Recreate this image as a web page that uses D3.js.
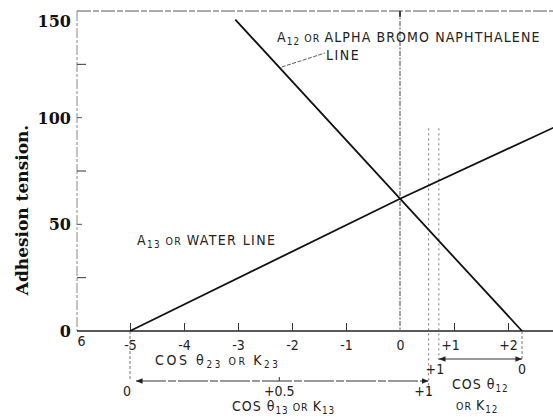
<html>
<head>
<title>Adhesion tension</title>
<script src="https://cdnjs.cloudflare.com/ajax/libs/d3/7.8.5/d3.min.js"></script>
<style>
  body { margin: 0; background: #fff; }
  .lab { font-family: "Liberation Sans Narrow", "DejaVu Sans Condensed", "Arial Narrow", sans-serif; fill: #222; }
  .num { font-family: "DejaVu Serif", serif; fill: #111; }
</style>
</head>
<body>
<svg id="chart" width="553" height="417"></svg>
<script>
// values
var xTicks = [-6, -5, -4, -3, -2, -1, 0, 1, 2, 3];
var yTicks = [0, 50, 100, 150];
var yMinor = [25, 75, 125];
var waterLine = [[-5, 0], [0, 62], [2.9, 96]];        // A13 or water line
var bromoLine = [[-3.05, 146], [0, 62], [2.26, 0]];   // A12 or alpha bromo naphthalene line
var cos13AtX = [-5, 0.53];     // cos theta13 = 0 and +1
var cos13Ticks = [0, 0.5, 1];
var cos12AtX = [0.72, 2.26];   // cos theta12 = +1 and 0
var cos12Ticks = [1, 0];

var svg = d3.select('#chart');

var x = d3.scaleLinear().domain([-6, 3]).range([76, 562]);
var y = d3.scaleLinear().domain([0, 150]).range([331, 11]);
var k13 = d3.scaleLinear().domain([0, 1]).range([x(cos13AtX[0]), x(cos13AtX[1])]);
var k12 = d3.scaleLinear().domain([1, 0]).range([x(cos12AtX[0]), x(cos12AtX[1])]);

var defs = svg.append('defs');
defs.append('marker').attr('id', 'arr').attr('viewBox', '0 0 10 10')
    .attr('refX', 10).attr('refY', 5).attr('markerWidth', 7).attr('markerHeight', 6)
    .attr('orient', 'auto-start-reverse')
  .append('path').attr('d', 'M0,1 L10,5 L0,9 Z').attr('fill', '#222');

// frame: top line and y axis line (faint, scanned look)
svg.append('line').attr('x1', 77).attr('x2', 553).attr('y1', y(150)).attr('y2', y(150))
    .attr('stroke', '#555').attr('stroke-width', 1.2).attr('stroke-dasharray', '14,2,6,2');
svg.append('line').attr('x1', 77).attr('x2', 77).attr('y1', y(150)).attr('y2', y(0))
    .attr('stroke', '#888').attr('stroke-width', 1).attr('stroke-dasharray', '10,2,3,2');

// y ticks
svg.selectAll('.ymaj').data(yTicks.filter(function (d) { return d > 0 && d < 150; }))
  .enter().append('line')
    .attr('x1', 77).attr('x2', 82).attr('y1', function (d) { return y(d); }).attr('y2', function (d) { return y(d); })
    .attr('stroke', '#555');
svg.selectAll('.ymin').data(yMinor).enter().append('line')
    .attr('x1', 77).attr('x2', 86).attr('y1', function (d) { return y(d); }).attr('y2', function (d) { return y(d); })
    .attr('stroke', '#333');
svg.selectAll('.ylab').data(yTicks).enter().append('text')
    .attr('class', 'num').attr('font-size', 16).attr('font-weight', 'bold').attr('text-anchor', 'end')
    .attr('x', 71).attr('y', function (d) { return Math.max(y(d), 21) + 6; })
    .text(function (d) { return d; });

// y title
svg.append('text').attr('class', 'num').attr('font-weight', 'bold').attr('font-size', 17)
    .attr('text-anchor', 'middle').attr('transform', 'translate(28,210) rotate(-90)')
    .text('Adhesion tension.');

// x axis with upward ticks
var xAxis = d3.axisBottom(x).tickValues(xTicks).tickSize(-8).tickPadding(14)
    .tickFormat(function (d) { return d === -6 ? '6' : (d > 0 ? '+' + d : String(d).replace('\u2212', '-')); });
var gx = svg.append('g').attr('transform', 'translate(0,' + y(0) + ')').call(xAxis);
gx.select('.domain').attr('d', 'M77,0H553').attr('stroke', '#222').attr('stroke-width', 1.6);
gx.selectAll('.tick line').attr('stroke', '#333');
gx.selectAll('.tick').filter(function (d) { return d === -6 || d === 0; }).select('line').remove();
gx.selectAll('.tick text').attr('class', 'lab').attr('font-size', 14).attr('fill', '#222')
    .attr('dx', function (d) { return d === -6 ? 5 : (d === 1 ? -4 : 0); })
    .attr('dy', function (d) { return d === -6 ? '0.1em' : '0.35em'; });

// vertical line at 0
svg.append('line').attr('x1', x(0)).attr('x2', x(0)).attr('y1', y(150)).attr('y2', y(0))
    .attr('stroke', '#444').attr('stroke-width', 1).attr('stroke-dasharray', '5,1.5,2,1.5');
svg.append('line').attr('x1', x(0)).attr('x2', x(0)).attr('y1', y(150)).attr('y2', y(150) + 6)
    .attr('stroke', '#222').attr('stroke-width', 1.5);

// dotted verticals at cos = +1
svg.append('line').attr('x1', k13(1)).attr('x2', k13(1)).attr('y1', y(95)).attr('y2', 395)
    .attr('stroke', '#777').attr('stroke-dasharray', '2,3');
svg.append('line').attr('x1', k12(1)).attr('x2', k12(1)).attr('y1', y(95)).attr('y2', 360)
    .attr('stroke', '#777').attr('stroke-dasharray', '2,3');
svg.append('line').attr('x1', k13(0)).attr('x2', k13(0)).attr('y1', y(0)).attr('y2', 381)
    .attr('stroke', '#777').attr('stroke-dasharray', '3,2');
svg.append('line').attr('x1', k12(0)).attr('x2', k12(0)).attr('y1', y(0)).attr('y2', 359)
    .attr('stroke', '#777').attr('stroke-dasharray', '3,2');

// main lines
var line = d3.line().x(function (d) { return x(d[0]); }).y(function (d) { return y(d[1]); });
svg.append('path').datum(waterLine).attr('d', line).attr('fill', 'none').attr('stroke', '#111').attr('stroke-width', 1.8);
svg.append('path').datum(bromoLine).attr('d', line).attr('fill', 'none').attr('stroke', '#111').attr('stroke-width', 1.8);

// cos theta13 bracket
svg.append('line').attr('x1', k13(0.02)).attr('x2', k13(1)).attr('y1', 381).attr('y2', 381)
    .attr('stroke', '#333').attr('stroke-width', 1.1).attr('stroke-dasharray', '30,2,8,2')
    .attr('marker-start', 'url(#arr)').attr('marker-end', 'url(#arr)');
svg.append('line').attr('x1', k13(0.5)).attr('x2', k13(0.5)).attr('y1', 381).attr('y2', 377).attr('stroke', '#333');
svg.selectAll('.k13').data(cos13Ticks).enter().append('text')
    .attr('class', 'lab').attr('font-size', 14).attr('text-anchor', 'middle')
    .attr('x', function (d) { return k13(d) - (d === 1 ? 5 : (d === 0 ? 3 : 0)); }).attr('y', 396)
    .text(function (d) { return d === 0 ? '0' : '+' + d; });

// cos theta12 bracket
svg.append('line').attr('x1', k12(1)).attr('x2', k12(0)).attr('y1', 359).attr('y2', 359)
    .attr('stroke', '#333').attr('stroke-width', 1.1)
    .attr('marker-start', 'url(#arr)').attr('marker-end', 'url(#arr)');
svg.selectAll('.k12').data(cos12Ticks).enter().append('text')
    .attr('class', 'lab').attr('font-size', 14).attr('text-anchor', 'middle')
    .attr('x', function (d) { return k12(d) - (d === 1 ? 4 : 0); }).attr('y', 374)
    .text(function (d) { return d === 0 ? '0' : '+' + d; });

// text labels with subscripts
function label(xp, yp, parts, size, ls) {
  var t = svg.append('text').attr('class', 'lab').attr('x', xp).attr('y', yp)
      .attr('font-size', size).attr('letter-spacing', ls);
  parts.forEach(function (p) {
    var s = t.append('tspan').text(p[0]);
    if (p[1] === 'sub') s.attr('font-size', size * 0.7).attr('baseline-shift', '-30%');
    if (p[1] === 'small') s.attr('font-size', size * 0.75);
  });
  return t;
}
label(277, 42, [['A'], ['12', 'sub'], [' OR ', 'small'], ['ALPHA BROMO NAPHTHALENE']], 14, 1.1);
label(326, 60, [['LINE']], 14, 1.5);
svg.append('line').attr('x1', x(-2.19)).attr('y1', 67).attr('x2', 325).attr('y2', 53)
    .attr('stroke', '#444').attr('stroke-width', 0.9).attr('stroke-dasharray', '4,1.5');
label(137, 245, [['A'], ['13', 'sub'], [' OR ', 'small'], ['WATER  LINE']], 14, 1.4);
label(155, 365, [['COS  \u03b8'], ['23', 'sub'], [' OR ', 'small'], [' K'], ['23', 'sub']], 14, 2.6);
label(232, 411, [['COS  \u03b8'], ['13', 'sub'], [' OR ', 'small'], [' K'], ['13', 'sub']], 14, 1);
label(452, 389, [['COS  \u03b8'], ['12', 'sub']], 14, 1);
label(456, 410, [['OR ', 'small'], ['K'], ['12', 'sub']], 14, 1);
</script>
</body>
</html>
